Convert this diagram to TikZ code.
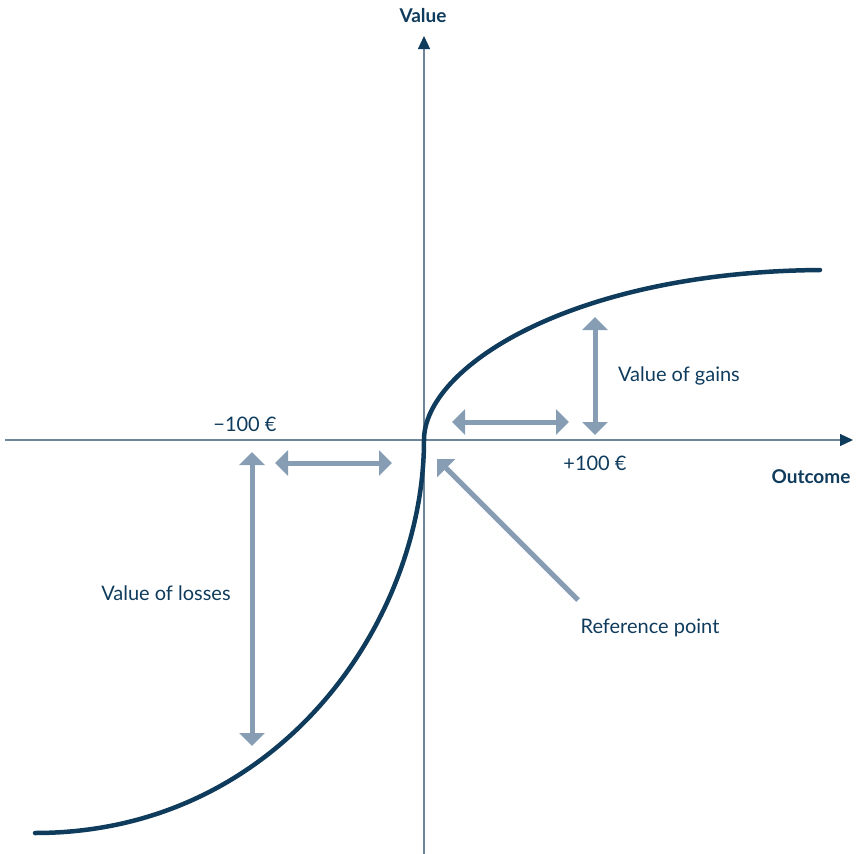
\documentclass[tikz,border=0pt]{standalone}
\usepackage{fontspec}
\setmainfont{Lato}
\usetikzlibrary{arrows.meta}
\definecolor{navy}{HTML}{0F3B5C}
\definecolor{steel}{HTML}{869DB4}
\definecolor{axisgray}{HTML}{6F8599}
\tikzset{
  axisline/.style={draw=axisgray, line width=1.2pt, -{Triangle[width=12pt,length=13pt,color=navy]}},
  gaparrow/.style={draw=steel, line width=5pt, {Triangle[width=25pt,length=13pt]}-{Triangle[width=25pt,length=13pt]}},
  refarrow/.style={draw=steel, line width=5pt, -{Triangle[width=25pt,length=13pt]}},
  txt/.style={text=navy, font=\fontsize{20}{22}\selectfont, inner sep=0pt},
  axistxt/.style={txt, font=\fontsize{19}{21}\selectfont\bfseries},
}

\begin{document}
\begin{tikzpicture}[x=1pt, y=-1pt]
\useasboundingbox (0,0) rectangle (860,854);
% axes
\coordinate (xstart) at (5,440);
\coordinate (xend)   at (853,440);
\coordinate (ystart) at (424,854);
\coordinate (yend)   at (424,36);
\draw[axisline] (xstart) -- (xend);
\draw[axisline] (ystart) -- (yend);
\node[axistxt] (value)   at (423,16)  {Value};
\node[axistxt] (outcome) at (811,477) {Outcome};
% value function
\coordinate (origin) at (424,440);
\draw[navy, line width=4.5pt, line cap=round]
  (35,833) .. controls (280,833) and (424,620) .. (origin)
  .. controls (424,368) and (570,272) .. (820,270);
% tick labels
\node[txt] (minus) at (245,424) {−100 €};
\node[txt] (plus)  at (595,463) {+100 €};
% gains
\coordinate (g1) at (452,422);
\coordinate (g2) at (569,422);
\coordinate (g3) at (595,317);
\coordinate (g4) at (595,435);
\draw[gaparrow] (g1) -- (g2);
\draw[gaparrow] (g3) -- (g4);
\node[txt] (gains) at (679,376) {Value of gains};
% losses
\coordinate (l1) at (275,463);
\coordinate (l2) at (392,463);
\coordinate (l3) at (252,452);
\coordinate (l4) at (252,746);
\draw[gaparrow] (l1) -- (l2);
\draw[gaparrow] (l3) -- (l4);
\node[txt] (losses) at (166,593) {Value of losses};
% reference point
\node[txt] (refpt) at (650,628) {Reference point};
\coordinate (r1) at (578,600);
\coordinate (r2) at (437,459);
\draw[refarrow] (r1) -- (r2);
\end{tikzpicture}
\end{document}
